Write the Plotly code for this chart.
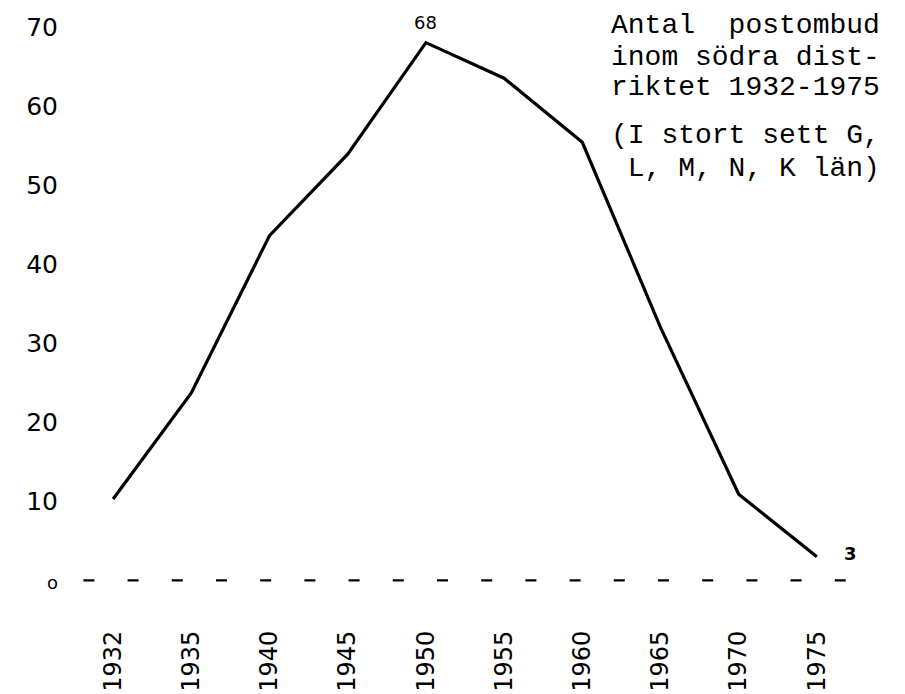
import plotly.graph_objects as go

years = ["1932", "1935", "1940", "1945", "1950", "1955", "1960", "1965", "1970", "1975"]
postombud = [10.3, 23.7, 43.6, 53.9, 68, 63.5, 55.4, 32, 10.9, 3]
y_ticks = [0, 10, 20, 30, 40, 50, 60, 70]
y_ticktext = ["<span style='font-size:18px'>o</span>", "10", "20", "30", "40", "50", "60", "70"]
title_lines = ["Antal  postombud", "inom södra dist-", "riktet 1932-1975"]
note_lines = ["(I stort sett G,", " L, M, N, K län)"]

W, H = 905, 694
OFF = 8  # page body margin
L, R, T, B = 74 - OFF, 49 + OFF, 11 - OFF, 74 + OFF
PW, PH = W - L - R, H - T - B

def px(x):
    return (x - OFF - L) / PW

def py(y):
    return (H - B + OFF - y) / PH

x_idx = list(range(len(years)))

fig = go.Figure()
fig.add_trace(go.Scatter(
    x=x_idx, y=postombud, mode="lines",
    line=dict(color="black", width=3.2),
    showlegend=False, hoverinfo="skip",
))

# dashed baseline at zero
fig.add_shape(type="line", x0=-0.38, x1=9.38, y0=0, y1=0, xref="x", yref="y",
              line=dict(color="black", width=2.2, dash="11px,33.2px"))

mono = "Liberation Mono, Courier New, monospace"
for txt, yp in zip(title_lines + note_lines, [26, 57, 88, 136, 168]):
    fig.add_annotation(x=px(609), y=py(yp), xref="paper", yref="paper",
                       text=txt.replace(" ", "&nbsp;"), showarrow=False,
                       xanchor="left", yanchor="middle",
                       font=dict(family=mono, size=28, color="black"))

# value labels
fig.add_annotation(x=x_idx[4], y=postombud[4], text=str(postombud[4]), showarrow=False,
                   yshift=20, xshift=0, font=dict(family="DejaVu Sans", size=18, color="black"))
fig.add_annotation(x=x_idx[9], y=postombud[9], text="<b>%d</b>" % postombud[9], showarrow=False,
                   xshift=34, yshift=3, font=dict(family="DejaVu Sans", size=18, color="black"))

fig.update_layout(
    width=W, height=H,
    margin=dict(l=L, r=R, t=T, b=B),
    paper_bgcolor="white", plot_bgcolor="white",
    font=dict(family="DejaVu Sans", color="black"),
    xaxis=dict(range=[-0.5, 9.5], tickvals=x_idx, ticktext=years, tickangle=-90,
               showgrid=False, zeroline=False, showline=False, ticks="",
               tickfont=dict(size=24), ticklabelstandoff=5, automargin=False),
    yaxis=dict(range=[-5, 72], tickvals=y_ticks, ticktext=y_ticktext,
               showgrid=False, zeroline=False, showline=False, ticks="",
               tickfont=dict(size=25), ticklabelstandoff=15, automargin=False),
)

fig.write_html("out.html")
